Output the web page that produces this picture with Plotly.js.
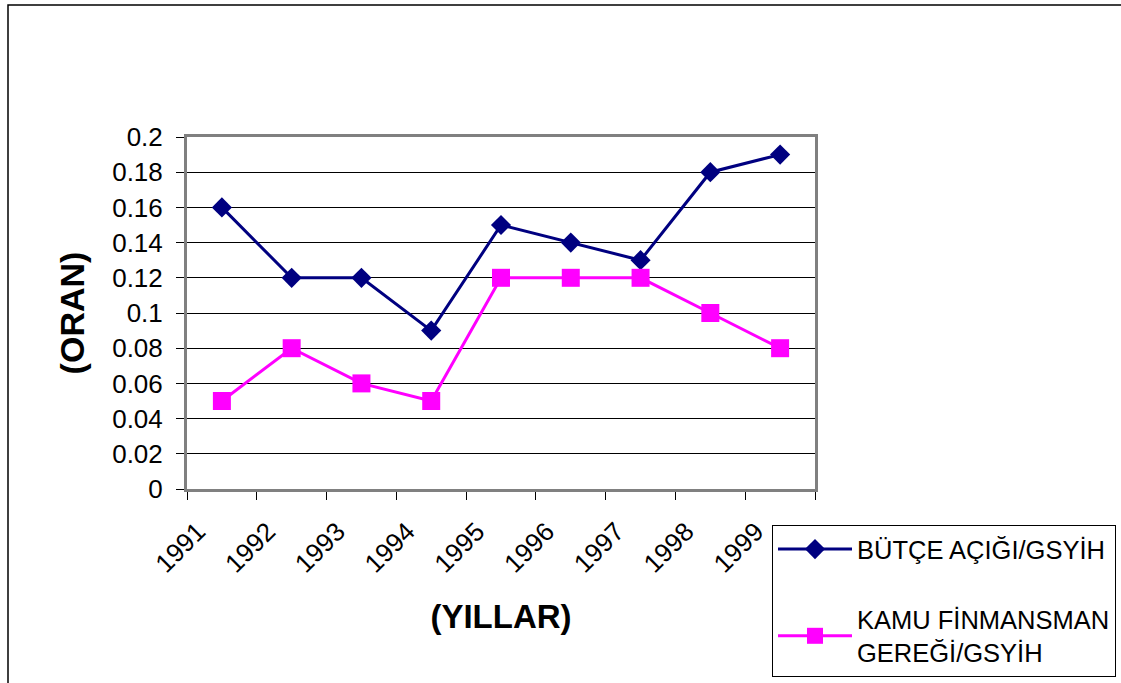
<!DOCTYPE html>
<html>
<head>
<meta charset="utf-8">
<script src="https://cdn.plot.ly/plotly-3.0.1.min.js"></script>
<style>
html,body{margin:0;padding:0;background:#fff;overflow:hidden;}
#chart{width:1121px;height:683px;}
</style>
</head>
<body>
<div id="chart"></div>
<script>
const years = ["1991","1992","1993","1994","1995","1996","1997","1998","1999"];
const butceAcigi = [0.16, 0.12, 0.12, 0.09, 0.15, 0.14, 0.13, 0.18, 0.19];
const kamuFinansman = [0.05, 0.08, 0.06, 0.05, 0.12, 0.12, 0.12, 0.10, 0.08];
const seriesNames = ["BÜTÇE AÇIĞI/GSYİH", "KAMU FİNMANSMAN<br>GEREĞİ/GSYİH"];
const yTickVals = [0, 0.02, 0.04, 0.06, 0.08, 0.1, 0.12, 0.14, 0.16, 0.18, 0.2];
const yTickText = ["0", "0.02", "0.04", "0.06", "0.08", "0.1", "0.12", "0.14", "0.16", "0.18", "0.2"];

const font = "Arial, 'Liberation Sans', sans-serif";

const traces = [
  {
    x: years, y: butceAcigi, name: seriesNames[0], type: "scatter", mode: "lines+markers",
    line: {color: "#000080", width: 3},
    marker: {symbol: "diamond", size: 15.5, color: "#000080"},
    legendgroup: "a"
  },
  {
    x: years, y: kamuFinansman, name: seriesNames[1], type: "scatter", mode: "lines+markers",
    line: {color: "#FF00FF", width: 3},
    marker: {symbol: "square", size: 18, color: "#FF00FF"},
    legendgroup: "b"
  }
];

const L = 187, R = 815, T = 137, B = 489, W = 1121, H = 683;
const pw = R - L, ph = B - T;
function px2x(p){ return (p - L) / pw; }
function px2y(p){ return (B - p) / ph; }

const layout = {
  width: W, height: H,
  margin: {l: L, r: W - R, t: T, b: H - B, pad: 0, autoexpand: false},
  paper_bgcolor: "#fff", plot_bgcolor: "#fff",
  font: {family: font, size: 25, color: "#000"},
  showlegend: true,
  legend: {
    x: px2x(772), y: px2y(525), xanchor: "left", yanchor: "top",
    bgcolor: "#fff", bordercolor: "#000", borderwidth: 1,
    font: {family: font, size: 25.5, color: "#000"},
    traceorder: "grouped", tracegroupgap: 34,
    itemwidth: 74
  },
  xaxis: {
    type: "category",
    range: [-0.5, years.length - 0.5],
    tickson: "boundaries",
    ticks: "outside", ticklen: 8, tickwidth: 1, tickcolor: "#000",
    tickangle: -45,
    ticklabelshift: -24, ticklabelstandoff: 14,
    tickfont: {family: font, size: 26, color: "#000"},
    showgrid: false, zeroline: false,
    showline: true, mirror: true, linecolor: "#808080", linewidth: 3,
    fixedrange: true, automargin: false,
    title: {text: "<b>(YILLAR)</b>", font: {family: font, size: 33, color: "#000"}, standoff: 28}
  },
  yaxis: {
    range: [0, 0.2],
    tickvals: yTickVals, ticktext: yTickText,
    ticks: "outside", ticklen: 8, tickwidth: 1, tickcolor: "#000",
    ticklabelstandoff: 8,
    tickfont: {family: font, size: 26, color: "#000"},
    showgrid: true, gridcolor: "#000", gridwidth: 1,
    zeroline: false,
    showline: true, mirror: true, linecolor: "#808080", linewidth: 3,
    fixedrange: true, automargin: false,
    title: {text: "<b>(ORAN)</b>", font: {family: font, size: 34, color: "#000"}, standoff: 18}
  },
  shapes: [
    {type: "rect", xref: "paper", yref: "paper",
     x0: px2x(8), x1: px2x(1130), y0: px2y(700), y1: px2y(5),
     line: {color: "#000", width: 1.5}, fillcolor: "rgba(0,0,0,0)", layer: "below"}
  ]
};

Plotly.newPlot("chart", traces, layout, {displayModeBar: false, staticPlot: true});
</script>
</body>
</html>
